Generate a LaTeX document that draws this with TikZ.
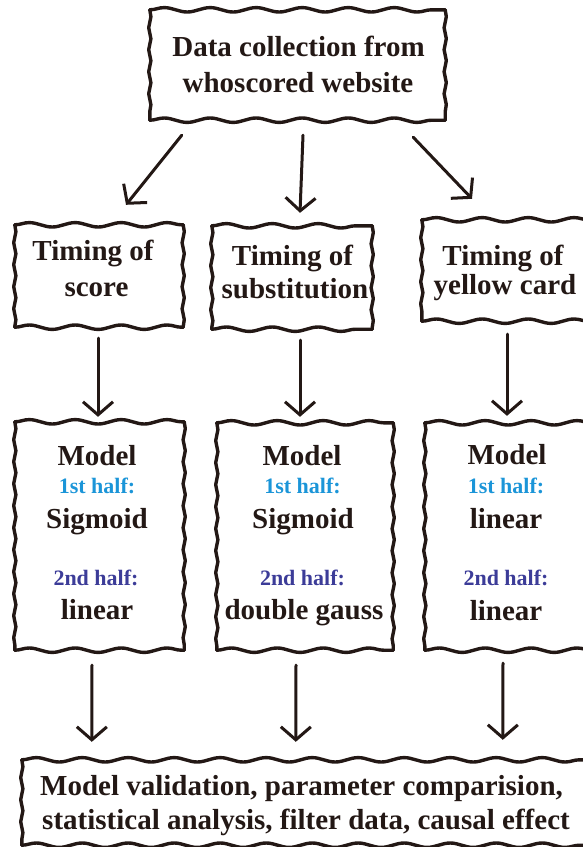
\documentclass[tikz,border=0pt]{standalone}
\usepackage{fontspec}
\setmainfont{Liberation Serif}
\usetikzlibrary{decorations.pathmorphing,arrows.meta}
\definecolor{ink}{HTML}{231815}
\definecolor{blueA}{HTML}{1B95D8}
\definecolor{blueB}{HTML}{3C3C98}
\newcommand\wavyframe[1]{%
  \draw[hline] (#1.north west) -- (#1.north east);
  \draw[hline] (#1.south west) -- (#1.south east);
  \draw[vline] (#1.north west) -- (#1.south west);
  \draw[vline] (#1.north east) -- (#1.south east);}
\begin{document}
\begin{tikzpicture}[x=1pt,y=-1pt,
  boxarea/.style={inner sep=0pt, draw=none},
  hline/.style={draw=ink, line width=3.4pt, line cap=round, line join=round,
    decorate, decoration={snake, segment length=46pt, amplitude=2.2pt}},
  vline/.style={draw=ink, line width=3.4pt, line cap=round, line join=round,
    decorate, decoration={snake, segment length=22pt, amplitude=1.1pt}},
  big/.style={text=ink, font=\fontsize{29}{34}\selectfont\bfseries, anchor=base, inner sep=0pt},
  small/.style={font=\fontsize{22}{26}\selectfont\bfseries, anchor=base, inner sep=0pt},
  arr/.style={draw=ink, line width=3pt, line cap=round, -{Straight Barb[length=13pt,width=30pt]}}]
\useasboundingbox (0,0) rectangle (582,847);

% boxes
\node[boxarea, minimum width=295pt, minimum height=110pt] (top) at (297.5,65) {};
\node[boxarea, minimum width=168pt, minimum height=102pt] (score) at (99,276) {};
\node[boxarea, minimum width=160pt, minimum height=103pt] (subst) at (292,277.5) {};
\node[boxarea, minimum width=178pt, minimum height=101pt] (yellow) at (511,270.5) {};
\node[boxarea, minimum width=169pt, minimum height=228pt] (model1) at (99.5,536) {};
\node[boxarea, minimum width=176pt, minimum height=227pt] (model2) at (305,536.5) {};
\node[boxarea, minimum width=175pt, minimum height=227pt] (model3) at (512.5,536.5) {};
\node[boxarea, minimum width=578pt, minimum height=85pt] (final) at (311,802.5) {};
\wavyframe{top}
\wavyframe{score}
\wavyframe{subst}
\wavyframe{yellow}
\wavyframe{model1}
\wavyframe{model2}
\wavyframe{model3}
\wavyframe{final}

% texts
\node[big] (t1) at (298.5,56) {Data collection from};
\node[big] (t2) at (298,92) {whoscored website};

\node[big] (s1) at (93,260) {Timing of};
\node[big] (s2) at (96.5,296) {score};
\node[big] (u1) at (292.5,265) {Timing of};
\node[big] (u2) at (295,298) {substitution};
\node[big] (y1) at (503,265) {Timing of};
\node[big] (y2) at (505,294) {yellow card};

\node[big] (m1a) at (97,465) {Model};
\node[small, text=blueA] (m1b) at (97,493) {1st half:};
\node[big] (m1c) at (97,528) {Sigmoid};
\node[small, text=blueB] (m1d) at (96,585) {2nd half:};
\node[big] (m1e) at (97,619) {linear};

\node[big] (m2a) at (302,465) {Model};
\node[small, text=blueA] (m2b) at (302.5,493) {1st half:};
\node[big] (m2c) at (303,528) {Sigmoid};
\node[small, text=blueB] (m2d) at (302.5,585) {2nd half:};
\node[big] (m2e) at (304,619) {double gauss};

\node[big] (m3a) at (507,464) {Model};
\node[small, text=blueA] (m3b) at (506,493) {1st half:};
\node[big] (m3c) at (506,528) {linear};
\node[small, text=blueB] (m3d) at (506,585) {2nd half:};
\node[big] (m3e) at (506,620) {linear};

\node[big] (f1) at (301.5,795) {Model validation, parameter comparision,};
\node[big] (f2) at (306,829) {statistical analysis, filter data, causal effect};

% arrows
\draw[arr] ([xshift=32pt,yshift=-15pt]top.south west) -- ([xshift=27pt,yshift=20pt]score.north);
\draw[arr] ([xshift=5.5pt,yshift=-15pt]top.south) -- ([xshift=8pt,yshift=13pt]subst.north);
\draw[arr] ([xshift=-32pt,yshift=-17pt]top.south east) -- ([xshift=-39pt,yshift=21pt]yellow.north);

\draw[arr] ([xshift=-1pt,yshift=-11pt]score.south) -- ([xshift=-1.5pt,yshift=5pt]model1.north);
\draw[arr] ([xshift=8pt,yshift=-11pt]subst.south) -- ([xshift=-5pt,yshift=6pt]model2.north);
\draw[arr] ([xshift=-4pt,yshift=-13pt]yellow.south) -- ([xshift=-5.5pt,yshift=7pt]model3.north);

\draw[arr] ([xshift=-7.5pt,yshift=-15pt]model1.south) -- ([xshift=70pt,yshift=18pt]final.north west);
\draw[arr] ([xshift=-9pt,yshift=-15pt]model2.south) -- ([xshift=274pt,yshift=18pt]final.north west);
\draw[arr] ([xshift=-9.5pt,yshift=-13pt]model3.south) -- ([xshift=481pt,yshift=20pt]final.north west);
\end{tikzpicture}
\end{document}
